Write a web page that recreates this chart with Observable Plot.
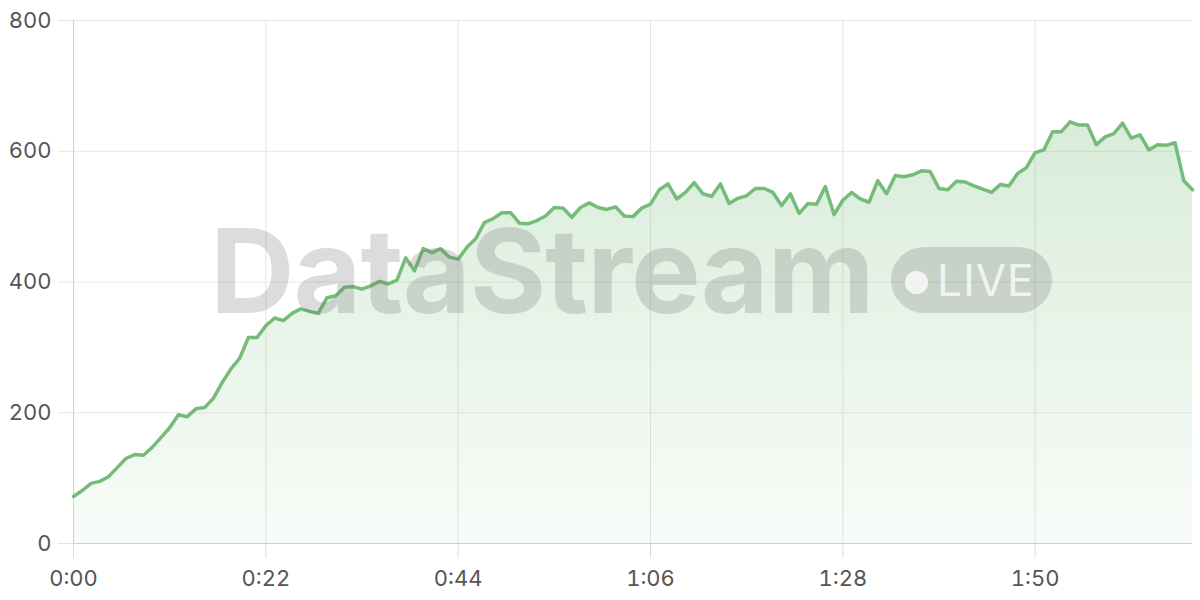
<!DOCTYPE html>
<html><head><meta charset="utf-8">
<script src="https://cdn.jsdelivr.net/npm/d3@7"></script>
<script src="https://cdn.jsdelivr.net/npm/@observablehq/plot@0.6"></script>
<style>
body{margin:0;background:#fff;}
#wrap{position:relative;width:1200px;height:600px;overflow:hidden;}
#wm{position:absolute;left:210px;top:212px;font-family:Inter,sans-serif;font-weight:700;font-size:117px;letter-spacing:-1px;color:rgba(110,110,110,0.24);line-height:1;white-space:nowrap;pointer-events:none;}
#pill{position:absolute;left:891px;top:247px;width:161px;height:66px;border-radius:33px;background:rgba(110,110,110,0.24);pointer-events:none;}
#dot{position:absolute;left:905px;top:271px;width:23px;height:23px;border-radius:12px;background:rgba(255,255,255,0.75);}
#live{position:absolute;left:937px;top:258px;font-family:Inter,sans-serif;font-weight:400;font-size:44px;line-height:1;color:rgba(255,255,255,0.75);letter-spacing:1px;}
</style></head><body><div id="wrap"></div>
<script>
const seconds = d3.range(0, 129);
const viewers = [
  72, 81, 92, 95, 102, 116, 130, 136, 135, 147,
  162, 177, 197, 194, 206, 208, 222, 246, 267, 283,
  315, 315, 333, 345, 341, 352, 359, 355, 352, 376,
  379, 392, 393, 389, 394, 401, 397, 403, 437, 417,
  451, 445, 451, 438, 435, 453, 466, 491, 497, 506,
  506, 490, 489, 494, 501, 514, 513, 499, 514, 521,
  514, 511, 515, 501, 500, 513, 519, 541, 550, 527,
  537, 552, 535, 531, 550, 520, 528, 532, 543, 543,
  537, 517, 535, 505, 520, 519, 546, 503, 525, 537,
  527, 522, 555, 535, 563, 561, 564, 570, 569, 543,
  541, 554, 553, 547, 542, 537, 549, 547, 566, 575,
  598, 602, 630, 630, 645, 640, 640, 610, 622, 627,
  643, 620, 625, 602, 610, 609, 613, 555, 541
];
const xTicks = [0, 22, 44, 66, 88, 110];
const yTicks = [0, 200, 400, 600, 800];
const watermark = "DataStream";
const badge = "LIVE";

const data = seconds.map((t, i) => ({t, v: viewers[i]}));
const fmt = s => `${Math.floor(s / 60)}:${String(s % 60).padStart(2, "0")}`;

const ns = "http://www.w3.org/2000/svg";
function gradientDefs() {
  const defs = document.createElementNS(ns, "defs");
  const g = document.createElementNS(ns, "linearGradient");
  g.setAttribute("id", "areaGrad");
  g.setAttribute("x1", "0"); g.setAttribute("x2", "0");
  g.setAttribute("y1", "0"); g.setAttribute("y2", "1");
  [["0%", "#74bc78", 0.28], ["100%", "#74bc78", 0.05]].forEach(([o, c, a]) => {
    const s = document.createElementNS(ns, "stop");
    s.setAttribute("offset", o); s.setAttribute("stop-color", c); s.setAttribute("stop-opacity", a);
    g.appendChild(s);
  });
  defs.appendChild(g);
  return defs;
}

const chart = Plot.plot({
  width: 1200, height: 600,
  marginLeft: 73, marginRight: 8, marginTop: 20, marginBottom: 57,
  style: {fontFamily: "Inter, sans-serif", fontSize: "22px", background: "transparent", overflow: "visible"},
  x: {domain: [0, 128], label: null},
  y: {domain: [0, 800], label: null},
  marks: [
    gradientDefs,
    Plot.gridX(xTicks, {stroke: "#e4e4e4", strokeOpacity: 1}),
    Plot.gridY(yTicks, {stroke: "#e8e8e8", strokeOpacity: 1}),
    Plot.areaY(data, {x: "t", y: "v", fill: "url(#areaGrad)"}),
    Plot.axisX(xTicks, {tickFormat: fmt, tickSize: 15, tickPadding: 12, stroke: "#dcdcdc", strokeOpacity: 1, fill: "#555", fontSize: 22, label: null}),
    Plot.axisY(yTicks, {tickSize: 15, tickPadding: 7, stroke: "#e4e4e4", strokeOpacity: 1, fill: "#555", fontSize: 22, label: null}),
    Plot.ruleY([0], {stroke: "#cfcfcf"}),
    Plot.ruleX([0], {stroke: "#cfcfcf"}),
    Plot.lineY(data, {x: "t", y: "v", stroke: "#74bc78", strokeWidth: 3.5, strokeLinejoin: "round"})
  ]
});

const wrap = document.getElementById("wrap");
wrap.appendChild(chart);
const wm = document.createElement("div"); wm.id = "wm"; wm.textContent = watermark; wrap.appendChild(wm);
const pill = document.createElement("div"); pill.id = "pill"; wrap.appendChild(pill);
const dot = document.createElement("div"); dot.id = "dot"; wrap.appendChild(dot);
const live = document.createElement("div"); live.id = "live"; live.textContent = badge; wrap.appendChild(live);
</script>
</body></html>
